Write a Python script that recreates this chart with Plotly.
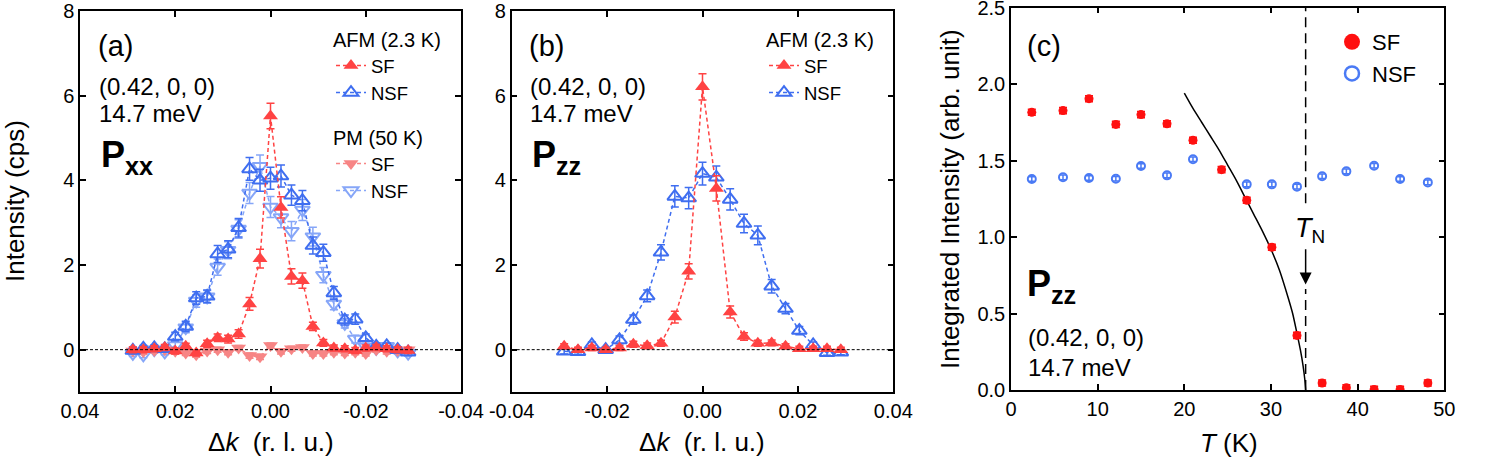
import plotly.graph_objects as go

W, H = 1494, 460

# ---------------- Panel (a): Pxx ----------------
dk_a = [0.0289, 0.0267, 0.0244, 0.0222, 0.0200, 0.0178, 0.0156, 0.0133, 0.0111,
        0.0089, 0.0067, 0.0044, 0.0022, 0.0, -0.0022, -0.0044, -0.0067, -0.0089,
        -0.0111, -0.0133, -0.0156, -0.0178, -0.0200, -0.0222, -0.0244, -0.0267, -0.0289]
a_afm_sf = [0.0, 0.0, 0.02, 0.05, -0.03, 0.08, -0.08, 0.14, 0.28, 0.25, 0.37, 1.08, 2.15,
            5.52, 3.36, 1.73, 1.63, 0.55, 0.16, 0.04, 0.02, -0.02, 0.04, 0.05, 0.02, 0.0, -0.02]
a_afm_sf_err = [0.07, 0.07, 0.07, 0.07, 0.07, 0.07, 0.07, 0.08, 0.09, 0.09, 0.1, 0.15, 0.22,
                0.3, 0.25, 0.18, 0.18, 0.1, 0.08, 0.07, 0.07, 0.07, 0.07, 0.07, 0.07, 0.07, 0.07]
a_afm_nsf = [-0.02, 0.03, 0.04, 0.02, 0.31, 0.55, 1.22, 1.26, 2.26, 2.37, 2.88, 4.27, 4.0,
             4.05, 4.10, 3.65, 3.52, 2.46, 2.29, 1.34, 0.70, 0.72, 0.28, 0.08, 0.09, 0.0, -0.06]
a_afm_nsf_err = [0.07, 0.07, 0.07, 0.07, 0.1, 0.12, 0.15, 0.15, 0.2, 0.2, 0.22, 0.27, 0.26,
                 0.26, 0.26, 0.24, 0.24, 0.2, 0.2, 0.15, 0.12, 0.12, 0.09, 0.07, 0.07, 0.07, 0.07]
a_pm_sf = [-0.03, -0.05, -0.02, 0.0, -0.04, -0.08, -0.12, -0.03, 0.0, -0.06, 0.04, -0.14, -0.17,
           0.10, -0.04, 0.02, 0.05, -0.09, -0.09, -0.06, -0.08, -0.06, -0.09, 0.0, -0.04, -0.02, 0.0]
a_pm_sf_err = [0.06] * 27
a_pm_nsf = [-0.09, -0.12, 0.0, -0.05, 0.10, 0.52, 1.15, 1.25, 1.95, 2.35, 2.85, 3.70, 4.33,
            3.37, 3.12, 2.80, 3.30, 2.67, 1.76, 1.08, 0.62, 0.25, 0.07, 0.03, 0.08, -0.03, -0.08]
a_pm_nsf_err = [0.07, 0.07, 0.07, 0.07, 0.08, 0.12, 0.15, 0.15, 0.19, 0.2, 0.22, 0.25, 0.27,
                0.25, 0.24, 0.23, 0.25, 0.22, 0.18, 0.14, 0.11, 0.09, 0.07, 0.07, 0.07, 0.07, 0.07]

# ---------------- Panel (b): Pzz ----------------
dk_b = [-0.029, -0.0261, -0.0232, -0.0203, -0.0174, -0.0145, -0.0116, -0.0087, -0.0058,
        -0.0029, 0.0, 0.0029, 0.0058, 0.0087, 0.0116, 0.0145, 0.0174, 0.0203, 0.0232,
        0.0261, 0.029]
b_sf = [0.08, 0.0, 0.04, 0.0, 0.04, 0.13, 0.09, 0.15, 0.77, 1.85, 6.21, 3.81, 0.89, 0.31,
        0.15, 0.16, 0.08, 0.02, 0.02, 0.02, 0.0]
b_sf_err = [0.06, 0.06, 0.06, 0.06, 0.06, 0.07, 0.07, 0.07, 0.14, 0.18, 0.31, 0.3, 0.14, 0.09,
            0.07, 0.07, 0.06, 0.06, 0.06, 0.06, 0.06]
b_nsf = [-0.04, -0.05, 0.11, 0.0, 0.23, 0.71, 1.27, 2.30, 3.62, 3.58, 4.16, 4.07, 3.55, 2.98,
         2.70, 1.50, 0.97, 0.45, 0.11, -0.07, -0.06]
b_nsf_err = [0.06, 0.06, 0.07, 0.06, 0.09, 0.11, 0.14, 0.18, 0.25, 0.25, 0.27, 0.27, 0.25, 0.22,
             0.22, 0.16, 0.12, 0.1, 0.07, 0.06, 0.06]

# ---------------- Panel (c): T dependence ----------------
T_sf = [2.4, 6.0, 9.0, 12.1, 15.0, 18.0, 21.0, 24.3, 27.2, 30.1, 33.0, 35.9, 38.7, 41.9, 44.9, 48.1]
I_sf = [1.815, 1.826, 1.904, 1.736, 1.80, 1.74, 1.632, 1.44, 1.24, 0.933, 0.357, 0.046, 0.015,
        0.004, 0.004, 0.046]
I_sf_err = [0.02] * 16
T_nsf = [2.4, 6.0, 9.0, 12.1, 15.0, 18.0, 21.0, 27.2, 30.1, 33.0, 35.9, 38.7, 41.9, 44.9, 48.1]
I_nsf = [1.379, 1.39, 1.386, 1.381, 1.464, 1.403, 1.508, 1.344, 1.344, 1.329, 1.397, 1.429,
         1.466, 1.379, 1.357]
I_nsf_err = [0.015] * 15
# order-parameter fit curve
T_fit = [20.0, 21.0, 22.0, 23.0, 24.0, 25.0, 26.0, 27.0, 28.0, 29.0, 30.0, 31.0, 32.0, 32.5,
         33.0, 33.4, 33.7, 33.9, 34.0]
I_fit = [1.94, 1.84, 1.75, 1.66, 1.57, 1.47, 1.37, 1.26, 1.15, 1.04, 0.92, 0.78, 0.60, 0.50,
         0.37, 0.26, 0.16, 0.07, 0.0]
T_N = 34.0

xa_ticks = [0.04, 0.02, 0.0, -0.02, -0.04]
xa_labels = ['0.04', '0.02', '0.00', '-0.02', '-0.04']
xb_ticks = [-0.04, -0.02, 0.0, 0.02, 0.04]
xb_labels = ['-0.04', '-0.02', '0.00', '0.02', '0.04']
yab_ticks = [0, 2, 4, 6, 8]
xc_ticks = [0, 10, 20, 30, 40, 50]
yc_ticks = [0.0, 0.5, 1.0, 1.5, 2.0, 2.5]
yc_labels = ['0.0', '0.5', '1.0', '1.5', '2.0', '2.5']

RED = '#FF4343'
BLUE = '#3F6EF0'
PINK = '#F78585'
LBLUE = '#86A6F8'
C_RED = '#FF1010'
C_BLUE = '#4A7AF5'

TXT = 'Liberation Sans, Arial, sans-serif'
NARROW = 'Liberation Sans Narrow, Arial Narrow, Liberation Sans, sans-serif'
DASH = '4px,3px'

fig = go.Figure()


def dk_trace(x, y, err, color, symbol, name, legend, xa, ya, rank, open_=False):
    marker = dict(symbol=symbol, size=13, color=color)
    if open_:
        marker['line'] = dict(color=color, width=2)
    return go.Scatter(
        x=x, y=y, mode='lines+markers', name=name, legend=legend, legendrank=rank,
        xaxis=xa, yaxis=ya,
        line=dict(color=color, width=1.5, dash=DASH),
        marker=marker,
        error_y=dict(type='data', array=err, color=color, thickness=1.5, width=4),
    )


# panel (a) (draw order: PM NSF, PM SF, AFM NSF, AFM SF)
fig.add_trace(dk_trace(dk_a, a_pm_nsf, a_pm_nsf_err, LBLUE, 'triangle-down-open', 'NSF', 'legend2', 'x', 'y', 4, True))
fig.add_trace(dk_trace(dk_a, a_pm_sf, a_pm_sf_err, PINK, 'triangle-down', 'SF', 'legend2', 'x', 'y', 3))
fig.add_trace(dk_trace(dk_a, a_afm_nsf, a_afm_nsf_err, BLUE, 'triangle-up-open', 'NSF', 'legend', 'x', 'y', 2, True))
fig.add_trace(dk_trace(dk_a, a_afm_sf, a_afm_sf_err, RED, 'triangle-up', 'SF', 'legend', 'x', 'y', 1))

# panel (b)
fig.add_trace(dk_trace(dk_b, b_nsf, b_nsf_err, BLUE, 'triangle-up-open', 'NSF', 'legend3', 'x2', 'y2', 2, True))
fig.add_trace(dk_trace(dk_b, b_sf, b_sf_err, RED, 'triangle-up', 'SF', 'legend3', 'x2', 'y2', 1))

# panel (c)
fig.add_trace(go.Scatter(x=T_fit, y=I_fit, mode='lines', line=dict(color='black', width=1.5, shape='spline', smoothing=0.6),
                         showlegend=False, xaxis='x3', yaxis='y3'))
fig.add_trace(go.Scatter(x=T_nsf, y=I_nsf, mode='markers', showlegend=False, xaxis='x3', yaxis='y3',
                         marker=dict(symbol='circle-open', size=8, color=C_BLUE, line=dict(color=C_BLUE, width=2)),
                         error_y=dict(type='data', array=I_nsf_err, color=C_BLUE, thickness=1.5, width=3)))
fig.add_trace(go.Scatter(x=T_sf, y=I_sf, mode='markers', showlegend=False, xaxis='x3', yaxis='y3',
                         marker=dict(symbol='circle', size=9, color=C_RED),
                         error_y=dict(type='data', array=I_sf_err, color=C_RED, thickness=1.5, width=4)))
# legend samples for panel (c)
fig.add_trace(go.Scatter(x=[None], y=[None], mode='markers', name='SF', legend='legend4', legendrank=1,
                         xaxis='x3', yaxis='y3', marker=dict(symbol='circle', size=16, color=C_RED)))
fig.add_trace(go.Scatter(x=[None], y=[None], mode='markers', name='NSF', legend='legend4', legendrank=2,
                         xaxis='x3', yaxis='y3',
                         marker=dict(symbol='circle-open', size=14, color=C_BLUE, line=dict(color=C_BLUE, width=2.5))))


def px(x):
    return min(1.0, max(0.0, x / W))


def py(y):
    return min(1.0, max(0.0, 1 - y / H))


axis_common = dict(showline=True, linecolor='black', linewidth=1.5, mirror='ticks', ticks='inside',
                   ticklen=6, tickwidth=1.5, tickcolor='black', showgrid=False, zeroline=False,
                   ticklabeloverflow='allow',
                   tickfont=dict(family=NARROW, size=20, color='black'), fixedrange=True)

ab_ydom = [py(392), py(11)]
fig.update_layout(
    width=W, height=H, margin=dict(l=0, r=0, t=0, b=0, autoexpand=False),
    paper_bgcolor='white', plot_bgcolor='white',
    font=dict(family=TXT, color='black'),
    xaxis=dict(domain=[px(80), px(461)], range=[0.04, -0.04], tickvals=xa_ticks, ticktext=xa_labels,
               anchor='y', **axis_common),
    yaxis=dict(domain=ab_ydom, range=[-1, 8], tickvals=yab_ticks, anchor='x', **axis_common),
    xaxis2=dict(domain=[px(511.7), px(893.3)], range=[-0.04, 0.04], tickvals=xb_ticks, ticktext=xb_labels,
                anchor='y2', **axis_common),
    yaxis2=dict(domain=ab_ydom, range=[-1, 8], tickvals=yab_ticks, anchor='x2', **axis_common),
    xaxis3=dict(domain=[px(1011), px(1444.3)], range=[0, 50], tickvals=xc_ticks, anchor='y3', **axis_common),
    yaxis3=dict(domain=[py(390), py(7.5)], range=[0, 2.5], tickvals=yc_ticks, ticktext=yc_labels,
                anchor='x3', **axis_common),
)

leg_common = dict(xanchor='left', yanchor='top', bgcolor='rgba(0,0,0,0)', borderwidth=0,
                  font=dict(family=TXT, size=18.5, color='black'), tracegroupgap=0, itemwidth=30)
fig.update_layout(
    legend=dict(x=px(331), y=py(21), title=dict(text='AFM (2.3 K)', font=dict(family=TXT, size=20)), **leg_common),
    legend2=dict(x=px(331), y=py(119), title=dict(text='PM (50 K)', font=dict(family=TXT, size=20)), **leg_common),
    legend3=dict(x=px(764), y=py(21), title=dict(text='AFM (2.3 K)', font=dict(family=TXT, size=20)), **leg_common),
    legend4=dict(x=px(1332), y=py(21), xanchor='left', yanchor='top', bgcolor='rgba(0,0,0,0)',
                 font=dict(family=TXT, size=22, color='black'), itemwidth=30),
)

# zero lines in (a) and (b)
for xr, yr in (('x', 'y'), ('x2', 'y2')):
    fig.add_shape(type='line', xref=f'{xr} domain', yref=yr, x0=0, x1=1, y0=0, y1=0,
                  line=dict(color='black', width=1, dash='3px,2px'))

# T_N dashed line (c)
fig.add_shape(type='line', xref='x3', yref='y3', x0=T_N, x1=T_N, y0=1.22, y1=2.5,
              line=dict(color='black', width=1.5, dash='10px,6px'))
fig.add_shape(type='line', xref='x3', yref='y3', x0=T_N, x1=T_N, y0=0, y1=0.66,
              line=dict(color='black', width=1.5, dash='10px,6px'))


def ann(text, x, y, size, xanchor='left', yanchor='middle', angle=0, family=TXT):
    fig.add_annotation(text=text, xref='paper', yref='paper', x=px(x), y=py(y), showarrow=False,
                       xanchor=xanchor, yanchor=yanchor, textangle=angle,
                       font=dict(family=family, size=size, color='black'))


# panel (a) texts
ann('(a)', 96, 46, 29)
ann('(0.42, 0, 0)', 97, 86, 24)
ann('14.7 meV', 97, 113, 24)
ann('<b>P<sub>xx</sub></b>', 99, 157, 36)
# panel (b) texts
ann('(b)', 527, 46, 29)
ann('(0.42, 0, 0)', 528, 86, 24)
ann('14.7 meV', 528, 113, 24)
ann('<b>P<sub>zz</sub></b>', 530, 157, 36)
# panel (c) texts
ann('(c)', 1025, 46, 29)
ann('<b>P<sub>zz</sub></b>', 1025, 286, 36)
ann('(0.42, 0, 0)', 1026, 337, 24)
ann('14.7 meV', 1026, 367, 24)
ann('<i>T</i><sub>N</sub>', 1293, 230, 27)
fig.add_annotation(xref='x3', yref='y3', x=T_N, y=0.69, ax=T_N, ay=0.93, axref='x3', ayref='y3',
                   showarrow=True, arrowhead=2, arrowsize=1.6, arrowwidth=1.5, arrowcolor='black', text='')

# axis titles
ann('Intensity (cps)', 15, 201, 26, xanchor='center', angle=-90)
ann('Δ<i>k</i>\u00a0 (r. l. u.)', 271, 442, 26, xanchor='center')
ann('Δ<i>k</i>\u00a0 (r. l. u.)', 702, 442, 26, xanchor='center')
ann('Integrated Intensity (arb. unit)', 950, 199, 26, xanchor='center', angle=-90)
ann('<i>T</i> (K)', 1229, 443, 26, xanchor='center')

# place the figure at the page's top-left corner (remove the default body margin)
fig.write_html('out.html', config={'displayModeBar': False},
               post_script="document.body.style.margin='0';")
